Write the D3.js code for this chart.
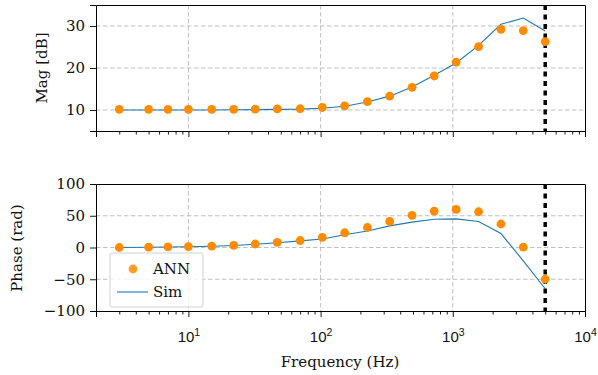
<!DOCTYPE html>
<html>
<head>
<meta charset="utf-8">
<script src="https://cdn.jsdelivr.net/npm/d3@7"></script>
<style>
  body { margin: 0; background: #fff; }
  svg { display: block; font-family: "DejaVu Serif", serif; }
</style>
</head>
<body>
<svg id="chart" width="598" height="375"></svg>
<script>
// frequencies of the test points (Hz)
const freq = [3, 5, 7, 10, 15, 22, 32, 47, 70, 103, 152, 226, 333, 492, 723, 1060, 1567, 2312, 3413, 5000]
const magAnn = [10.15, 10.15, 10.15, 10.15, 10.15, 10.15, 10.2, 10.25, 10.3, 10.6, 11.0, 12.0, 13.3, 15.4, 18.1, 21.4, 25.1, 29.2, 28.9, 26.3]
const magSim = [10.0, 10.0, 10.0, 10.0, 10.0, 10.05, 10.1, 10.15, 10.2, 10.4, 10.9, 11.9, 13.3, 15.5, 18.3, 21.2, 25.4, 30.4, 31.9, 28.8]
const phaseAnn = [0, 0.5, 1, 1.5, 2.2, 3.5, 5.5, 8, 11, 15.8, 23.2, 31.5, 41, 50.5, 57.4, 60, 56.3, 37, 0.6, -50]
const phaseSim = [0, 0.3, 0.7, 1.2, 2, 3.2, 5, 7.5, 10.5, 13.3, 20, 26, 34, 40, 44.6, 45, 41, 22, -21, -65]
const cutoff = 5000

const magTicks = [10, 20, 30]
const phaseTicks = [-100, -50, 0, 50, 100]
const xMajor = [10, 100, 1000, 10000]

const orange = '#ff8c00'
const blue = '#1f77b4'
const fs = 15

const svg = d3.select('#chart')
const x = d3.scaleLog().domain([2, 1e4]).range([96, 585])

const xMinor = []
for (let e = 0; e < 4; e++) {
  for (let m = 2; m <= 9; m++) xMinor.push(m * Math.pow(10, e))
}

function panel (top, bottom, domain, yTicks, ann, sim, showLabels) {
  const y = d3.scaleLinear().domain(domain).range([bottom, top])
  const g = svg.append('g')

  // grid
  g.selectAll('line.gx').data(xMajor.filter(v => v < 1e4)).join('line')
    .attr('x1', d => x(d)).attr('x2', d => x(d))
    .attr('y1', top).attr('y2', bottom)
    .attr('stroke', '#b0b0b0').attr('stroke-width', 0.8).attr('stroke-dasharray', '4.5,2.5')
  g.selectAll('line.gy').data(yTicks.filter(v => v > domain[0] && v < domain[1])).join('line')
    .attr('x1', x.range()[0]).attr('x2', x.range()[1])
    .attr('y1', d => y(d)).attr('y2', d => y(d))
    .attr('stroke', '#b0b0b0').attr('stroke-width', 0.8).attr('stroke-dasharray', '4.5,2.5')

  // cutoff marker
  g.append('line')
    .attr('x1', x(cutoff)).attr('x2', x(cutoff))
    .attr('y1', top).attr('y2', bottom)
    .attr('stroke', '#000').attr('stroke-width', 3.5).attr('stroke-dasharray', '5,4.5')

  const line = d3.line().x((d, i) => x(freq[i])).y(d => y(d))
  g.append('path').datum(sim)
    .attr('d', line).attr('fill', 'none')
    .attr('stroke', blue).attr('stroke-width', 1.1)

  g.selectAll('circle').data(ann).join('circle')
    .attr('cx', (d, i) => x(freq[i])).attr('cy', d => y(d))
    .attr('r', 4.4).attr('fill', orange)

  // axes
  const xb = d3.axisBottom(x).tickValues(xMajor).tickSize(6).tickFormat('')
  const xbm = d3.axisBottom(x).tickValues(xMinor).tickSize(3.5).tickFormat('')
  const xt = d3.axisTop(x).tickValues([]).tickSize(0)
  const yl = d3.axisLeft(y).tickValues(yTicks).tickSize(6).tickPadding(5)
    .tickFormat(d => d < 0 ? '\u2212' + Math.abs(d) : d)
  const yr = d3.axisRight(y).tickValues([]).tickSize(0)

  g.append('g').attr('transform', `translate(0,${bottom})`).call(xbm)
  const gxb = g.append('g').attr('transform', `translate(0,${bottom})`).call(xb)
  g.append('g').attr('transform', `translate(0,${top})`).call(xt)
  g.append('g').attr('transform', `translate(${x.range()[0]},0)`).call(yl)
  g.append('g').attr('transform', `translate(${x.range()[1]},0)`).call(yr)

  g.selectAll('.domain').attr('stroke', '#000').attr('stroke-width', 1)
  g.selectAll('.tick line').attr('stroke', '#000').attr('stroke-width', 0.9)
  g.selectAll('.tick text').attr('font-family', '"DejaVu Serif", serif')
    .attr('font-size', fs).attr('fill', '#111')

  if (showLabels) {
    gxb.selectAll('.tick').each(function (d) {
      const t = d3.select(this).append('text')
        .attr('y', 31).attr('text-anchor', 'middle')
        .attr('font-size', fs).attr('fill', '#111')
      t.append('tspan').text('10')
      t.append('tspan').attr('font-size', 10.5).attr('dy', -6.5).text(Math.round(Math.log10(d)))
    })
  }
  return y
}

panel(5, 131, [5, 35], magTicks, magAnn, magSim, false)
panel(184, 311, [-100, 100], phaseTicks, phaseAnn, phaseSim, true)

// axis titles
svg.append('text')
  .attr('transform', 'translate(47,68) rotate(-90)')
  .attr('text-anchor', 'middle').attr('font-size', fs).attr('fill', '#111')
  .text('Mag [dB]')
svg.append('text')
  .attr('transform', 'translate(22,248) rotate(-90)')
  .attr('text-anchor', 'middle').attr('font-size', fs).attr('fill', '#111')
  .text('Phase (rad)')
svg.append('text')
  .attr('x', 340).attr('y', 367)
  .attr('text-anchor', 'middle').attr('font-size', fs).attr('fill', '#111')
  .text('Frequency (Hz)')

// legend
const lg = svg.append('g')
lg.append('rect')
  .attr('x', 110).attr('y', 253).attr('width', 93).attr('height', 54).attr('rx', 2)
  .attr('fill', '#fff').attr('fill-opacity', 0.8)
  .attr('stroke', '#d0d0d0').attr('stroke-width', 1)
lg.append('circle').attr('cx', 133).attr('cy', 269).attr('r', 4.4)
  .attr('fill', orange).attr('fill-opacity', 0.85)
lg.append('text').attr('x', 153).attr('y', 274).attr('font-size', fs).attr('fill', '#111').text('ANN')
lg.append('line').attr('x1', 117).attr('x2', 148).attr('y1', 292).attr('y2', 292)
  .attr('stroke', blue).attr('stroke-width', 1.1)
lg.append('text').attr('x', 153).attr('y', 297).attr('font-size', fs).attr('fill', '#111').text('Sim')
</script>
</body>
</html>
